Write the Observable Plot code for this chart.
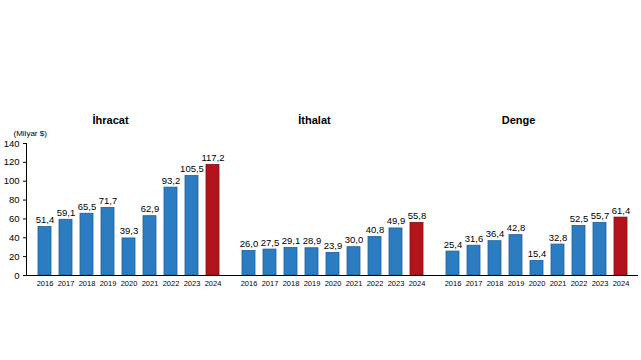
<!DOCTYPE html>
<html>
<head>
<meta charset="utf-8">
<script src="https://cdn.jsdelivr.net/npm/d3@7"></script>
<script src="https://cdn.jsdelivr.net/npm/@observablehq/plot@0.6"></script>
<style>
  html, body { margin: 0; padding: 0; background: #fff; }
  #chart svg { display: block; }
</style>
</head>
<body>
<div id="chart"></div>
<script>
const years = ["2016","2017","2018","2019","2020","2021","2022","2023","2024"];
const groups = ["İhracat", "İthalat", "Denge"];
const ihracat = [51.4, 59.1, 65.5, 71.7, 39.3, 62.9, 93.2, 105.5, 117.2];
const ithalat = [26.0, 27.5, 29.1, 28.9, 23.9, 30.0, 40.8, 49.9, 55.8];
const denge   = [25.4, 31.6, 36.4, 42.8, 15.4, 32.8, 52.5, 55.7, 61.4];
const yTicks = [0, 20, 40, 60, 80, 100, 120, 140];
const unitLabel = "(Milyar $)";
const highlightYear = "2024";

const blue = "#2b7cc1", blueEdge = "#1d5f99";
const red = "#b3141c", redEdge = "#7e0d12";

const series = [ihracat, ithalat, denge];
const data = [];
groups.forEach((g, gi) => {
  years.forEach((y, i) => data.push({group: g, year: y, value: series[gi][i]}));
});

const fmt = v => d3.format(".1f")(v).replace(".", ",");
const font = "'Liberation Sans', Arial, sans-serif";

const chart = Plot.plot({
  width: 641,
  height: 360,
  marginTop: 143,
  marginBottom: 85,
  marginLeft: 25,
  marginRight: 2,
  style: {fontFamily: font, background: "#fff", color: "#000"},
  fx: {domain: groups, padding: 0, axis: null},
  x: {domain: years, paddingInner: 0.4, paddingOuter: 0.45},
  y: {domain: [0, 140]},
  marks: [
    Plot.axisY({ticks: yTicks, tickSize: 3, tickPadding: 4, fontSize: 9.5, tickFormat: d => d, label: null}),
    Plot.axisX({tickSize: 0, tickPadding: 5, fontSize: 7.5, label: null, fontFamily: "'Liberation Sans Narrow', 'Liberation Sans', Arial, sans-serif"}),
    Plot.barY(data, {
      fx: "group", x: "year", y: "value",
      fill: d => d.year === highlightYear ? red : blue,
      stroke: d => d.year === highlightYear ? redEdge : blueEdge,
      strokeWidth: 0.8
    }),
    Plot.text(data, {
      fx: "group", x: "year", y: "value",
      text: d => fmt(d.value),
      dy: -4, lineAnchor: "bottom", fontSize: 9.5, fill: "#000"
    }),
    Plot.ruleY([0], {stroke: "#000", strokeWidth: 1}),
    Plot.frame({anchor: "left", facetAnchor: "left", stroke: "#000", strokeWidth: 1}),
    Plot.text(groups, {fx: d => d, text: d => d, frameAnchor: "top", dy: -27, dx: -18, fontWeight: "bold", fontSize: 11, fill: "#000"}),
    Plot.text([{group: groups[0], t: unitLabel}], {fx: "group", text: "t", frameAnchor: "top-left", textAnchor: "start", lineAnchor: "middle", dx: -13, dy: -10, fontSize: 8, fill: "#000"})
  ]
});
document.getElementById("chart").append(chart);
</script>
</body>
</html>
